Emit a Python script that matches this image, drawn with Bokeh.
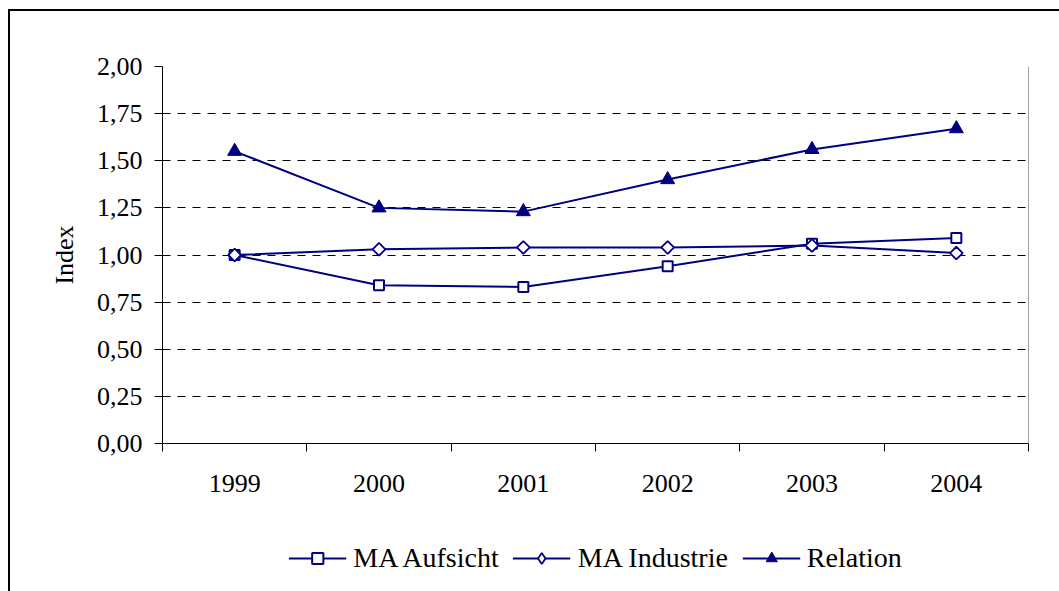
import numpy as np
from bokeh.plotting import figure
from bokeh.layouts import column
from bokeh.models import (Range1d, FixedTicker, CustomJSTickFormatter, Legend, LegendItem, Span)
from bokeh.embed import file_html
from bokeh.resources import INLINE

# ---- data ----
years = ["1999", "2000", "2001", "2002", "2003", "2004"]
ma_aufsicht = [1.00, 0.84, 0.83, 0.94, 1.06, 1.09]
ma_industrie = [1.00, 1.03, 1.04, 1.04, 1.05, 1.01]
relation = [1.55, 1.25, 1.23, 1.40, 1.56, 1.67]
y_ticks = [0.0, 0.25, 0.5, 0.75, 1.0, 1.25, 1.5, 1.75, 2.0]
series_names = ["MA Aufsicht", "MA Industrie", "Relation"]

NAVY = "#000080"
FONT = "Liberation Serif"

n = len(years)
xpos = np.arange(n) + 0.5          # category centres
bounds = list(np.arange(n + 1))    # category boundaries

W = 1049
H_MAIN = 490
H_LEG = 90

p = figure(width=W, height=H_MAIN, output_backend="svg", toolbar_location=None,
           x_range=Range1d(0, n), y_range=Range1d(y_ticks[0], y_ticks[-1]),
           min_border_left=152, min_border_right=31, min_border_top=55, min_border_bottom=58)
p.outline_line_color = None
p.background_fill_color = "white"
p.border_fill_color = "white"

# x axis: labels at centres, ticks at boundaries (minor ticks)
xa = p.xaxis[0]
xa.ticker = FixedTicker(ticks=list(xpos), minor_ticks=bounds)
xa.major_label_overrides = {float(x): y for x, y in zip(xpos, years)}
xa.major_tick_out = 0
xa.major_tick_in = 0
xa.minor_tick_out = 8
xa.minor_tick_in = 0
xa.minor_tick_line_color = "black"
xa.axis_line_color = "black"
xa.major_label_standoff = 23
xa.major_label_text_font = FONT
xa.major_label_text_font_size = "26px"
xa.major_label_text_color = "black"

ya = p.yaxis[0]
ya.ticker = FixedTicker(ticks=y_ticks, minor_ticks=[])
ya.formatter = CustomJSTickFormatter(code="return tick.toFixed(2).replace('.', ',');")
ya.major_tick_out = 8
ya.major_tick_in = 0
ya.minor_tick_line_color = None
ya.axis_line_color = "black"
ya.major_label_standoff = 12
ya.major_label_text_font = FONT
ya.major_label_text_font_size = "26px"
ya.major_label_text_color = "black"
ya.axis_label = "Index"
ya.axis_label_text_font = FONT
ya.axis_label_text_font_size = "26px"
ya.axis_label_text_font_style = "normal"
ya.axis_label_text_color = "black"
ya.axis_label_standoff = 15

p.xgrid.grid_line_color = None
p.ygrid.grid_line_color = "black"
p.ygrid.grid_line_dash = "8 7"
p.ygrid.grid_line_width = 1

# right border of plot area
p.add_layout(Span(location=n, dimension="height", line_color="#444444", line_width=1))


def draw_series(fig, industrie_marker, industrie_size, industrie_angle):
    l1 = fig.line(xpos, ma_aufsicht, line_color=NAVY, line_width=2)
    l2 = fig.line(xpos, ma_industrie, line_color=NAVY, line_width=2)
    l3 = fig.line(xpos, relation, line_color=NAVY, line_width=2)
    m1 = fig.scatter(xpos, ma_aufsicht, marker="square", size=10, line_color=NAVY,
                     line_width=2, fill_color="white")
    m2 = fig.scatter(xpos, ma_industrie, marker=industrie_marker, size=industrie_size,
                     angle=industrie_angle, line_color=NAVY, line_width=1.8,
                     fill_color="white")
    m3 = fig.scatter(xpos, relation, marker="triangle", size=14, line_color=NAVY,
                     fill_color=NAVY)
    return [(l1, m1), (l2, m2), (l3, m3)]


# diamonds in the chart: a square turned by 45 degrees
draw_series(p, "square", 9, np.pi / 4)

# legend strip below the chart (its own figure, series drawn out of view)
q = figure(width=W, height=H_LEG, output_backend="svg", toolbar_location=None,
           x_range=Range1d(-2, -1), y_range=Range1d(-2, -1),
           min_border_left=152, min_border_right=31, min_border_top=24, min_border_bottom=0)
q.axis.visible = False
q.grid.grid_line_color = None
q.outline_line_color = None
q.border_fill_color = "white"
q.background_fill_color = "white"
pairs = draw_series(q, "diamond", 12, 0)

legend = Legend(items=[LegendItem(label=name, renderers=list(rs))
                       for name, rs in zip(series_names, pairs)],
                orientation="horizontal", location="center")
legend.label_text_font = FONT
legend.label_text_font_size = "28px"
legend.label_text_color = "black"
legend.glyph_width = 58
legend.glyph_height = 28
legend.label_standoff = 7
legend.spacing = 14
legend.padding = 0
legend.margin = 0
legend.border_line_color = None
legend.background_fill_alpha = 0
q.add_layout(legend, "center")

layout = column(p, q, spacing=0,
                styles={"margin-left": "8px", "margin-top": "9px",
                        "border-left": "2px solid black", "border-top": "2px solid black"})

open("out.html", "w").write(file_html(layout, INLINE))
